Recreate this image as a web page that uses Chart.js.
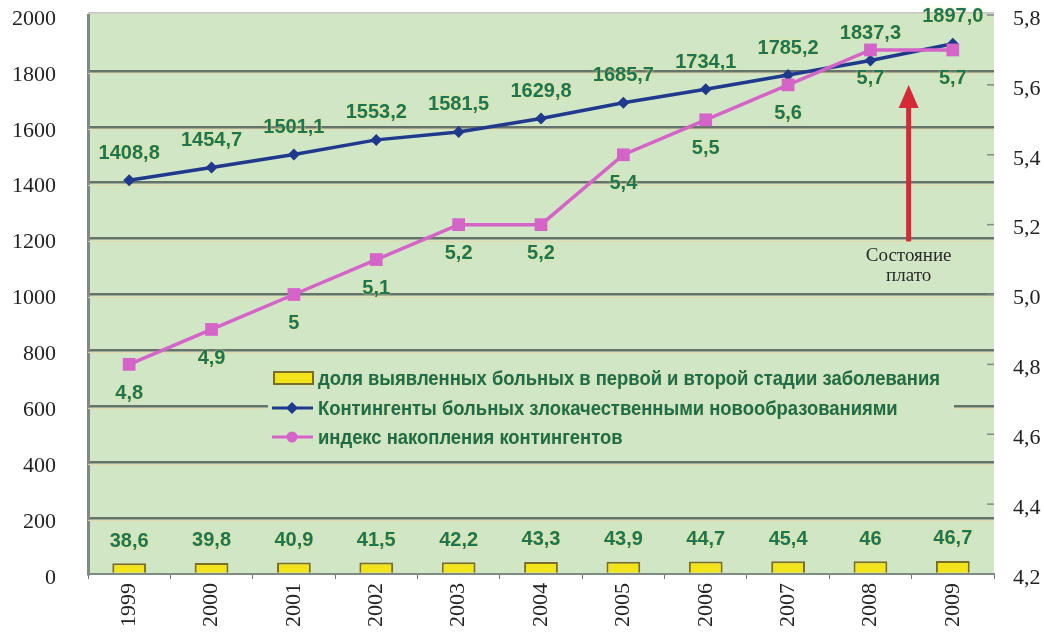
<!DOCTYPE html>
<html><head><meta charset="utf-8">
<script src="https://cdn.jsdelivr.net/npm/chart.js@4"></script>
<style>html,body{margin:0;padding:0;background:#fff}#wrap{width:1044px;height:637px;position:relative}</style>
</head><body><div id="wrap"><canvas id="c" width="1044" height="637"></canvas></div>
<script>
const years = ['1999','2000','2001','2002','2003','2004','2005','2006','2007','2008','2009'];
const earlyStageShare = [38.6,39.8,40.9,41.5,42.2,43.3,43.9,44.7,45.4,46,46.7];
const contingents = [1408.8,1454.7,1501.1,1553.2,1581.5,1629.8,1685.7,1734.1,1785.2,1837.3,1897.0];
const accumIndex = [4.8,4.9,5.0,5.1,5.2,5.2,5.4,5.5,5.6,5.7,5.7];
const seriesNames = [
  'доля выявленных больных в первой и второй стадии заболевания',
  'Контингенты больных злокачественными новообразованиями',
  'индекс накопления контингентов'
];
const plateauText = ['Состояние','плато'];

const GREEN_BG = '#d1e6c5';
const LABEL_COL = '#1b7658';
const fmtComma = v => String(v).replace('.', ',');
const fmtFixed1 = v => v.toFixed(1).replace('.', ',');

const bgPlugin = {
  id: 'bg',
  beforeDraw(chart) {
    const {ctx, chartArea: a} = chart;
    ctx.save();
    ctx.fillStyle = GREEN_BG;
    ctx.fillRect(a.left, a.top - 2, a.right - a.left, a.bottom - a.top + 2);
    ctx.fillStyle = '#c9c3c3';
    ctx.fillRect(a.left, a.top - 3, a.right - a.left, 1.5);
    ctx.restore();
  },
  beforeDatasetsDraw(chart) {
    const {ctx, chartArea: a, scales} = chart;
    ctx.save();
    ctx.strokeStyle = 'rgba(232,214,170,0.9)';
    ctx.lineWidth = 1;
    scales.y.ticks.forEach(t => {
      if (t.value <= 0 || t.value >= 2000) return;
      const y = Math.round(scales.y.getPixelForValue(t.value)) + 2.5;
      ctx.beginPath(); ctx.moveTo(a.left, y); ctx.lineTo(a.right, y); ctx.stroke();
    });
    ctx.strokeStyle = '#7e8c84';
    ctx.lineWidth = 1.5;
    scales.y2.ticks.forEach(t => {
      const y = scales.y2.getPixelForValue(t.value);
      ctx.beginPath(); ctx.moveTo(a.right - 7, y); ctx.lineTo(a.right, y); ctx.stroke();
    });
    const lx = 268, ly = 362, lw = 686, lh = 90;
    ctx.fillStyle = GREEN_BG;
    ctx.fillRect(lx, ly, lw, lh);
    const rows = [378, 408, 437];
    ctx.fillStyle = '#f2e31a'; ctx.strokeStyle = '#7a6d2a'; ctx.lineWidth = 2;
    ctx.fillRect(274, rows[0] - 6, 39, 12); ctx.strokeRect(274, rows[0] - 6, 39, 12);
    ctx.strokeStyle = '#1f3a8c'; ctx.lineWidth = 3;
    ctx.beginPath(); ctx.moveTo(272, rows[1]); ctx.lineTo(313, rows[1]); ctx.stroke();
    ctx.fillStyle = '#1f3a8c';
    ctx.beginPath(); ctx.moveTo(292, rows[1]-6); ctx.lineTo(298, rows[1]); ctx.lineTo(292, rows[1]+6); ctx.lineTo(286, rows[1]); ctx.closePath(); ctx.fill();
    ctx.strokeStyle = '#d464c8'; ctx.lineWidth = 3;
    ctx.beginPath(); ctx.moveTo(272, rows[2]); ctx.lineTo(313, rows[2]); ctx.stroke();
    ctx.fillStyle = '#d464c8';
    ctx.beginPath(); ctx.arc(292, rows[2], 5.5, 0, Math.PI*2); ctx.fill();
    ctx.font = 'bold 20px "Liberation Sans", Arial, sans-serif';
    const sx = 622 / ctx.measureText(seriesNames[0]).width;
    ctx.fillStyle = '#1c6c4e';
    ctx.textBaseline = 'middle';
    ctx.textAlign = 'left';
    ctx.shadowColor = 'rgba(230,220,120,0.7)';
    ctx.shadowBlur = 2;
    seriesNames.forEach((t, i) => {
      ctx.save();
      ctx.translate(318, rows[i] + 1);
      ctx.scale(sx, 1);
      ctx.fillText(t, 0, 0);
      ctx.restore();
    });
    ctx.restore();
  },
  afterDatasetsDraw(chart) {
    const {ctx} = chart;
    ctx.save();
    ctx.font = 'bold 20px "Liberation Sans", Arial, sans-serif';
    ctx.fillStyle = LABEL_COL;
    ctx.textAlign = 'center';
    ctx.textBaseline = 'middle';
    ctx.shadowColor = 'rgba(238,228,120,0.95)';
    ctx.shadowBlur = 3;
    const m0 = chart.getDatasetMeta(0), m1 = chart.getDatasetMeta(1), m2 = chart.getDatasetMeta(2);
    m0.data.forEach((el, i) => ctx.fillText(fmtComma(earlyStageShare[i]), el.x, el.y - 22));
    m1.data.forEach((el, i) => ctx.fillText(fmtFixed1(contingents[i]), el.x, el.y - 27));
    m2.data.forEach((el, i) => ctx.fillText(fmtComma(accumIndex[i]), el.x, el.y + 29));
    ctx.restore();
  },
  afterDraw(chart) {
    const {ctx, scales} = chart;
    const x = (scales.x.getPixelForValue(9) + scales.x.getPixelForValue(10)) / 2 - 3;
    const tip = scales.y.getPixelForValue(1750);
    const base = scales.y.getPixelForValue(1190);
    ctx.save();
    ctx.fillStyle = '#d42a35';
    ctx.fillRect(x - 2.5, tip + 18, 5, base - tip - 18);
    ctx.beginPath();
    ctx.moveTo(x, tip); ctx.lineTo(x + 10, tip + 23); ctx.lineTo(x - 10, tip + 23); ctx.closePath(); ctx.fill();
    ctx.font = '19px "Liberation Serif", "Times New Roman", serif';
    ctx.fillStyle = '#2a2a2a';
    ctx.textAlign = 'center';
    ctx.textBaseline = 'middle';
    ctx.fillText(plateauText[0], x, base + 15);
    ctx.fillText(plateauText[1], x, base + 35);
    ctx.restore();
  }
};

const serif = '"Liberation Serif", "Times New Roman", serif';
const zeroPad = s => { s.paddingTop = 0; s.paddingBottom = 0; s.paddingLeft = 0; s.paddingRight = 0; };

new Chart(document.getElementById('c'), {
  type: 'bar',
  data: {
    labels: years,
    datasets: [
      { type: 'bar', label: seriesNames[0], data: earlyStageShare, yAxisID: 'y', order: 3,
        backgroundColor: '#f2e31a', borderColor: '#7a6d2a', borderWidth: 2,
        barPercentage: 0.41, categoryPercentage: 1.0 },
      { type: 'line', label: seriesNames[1], data: contingents, yAxisID: 'y', order: 2,
        borderColor: '#1f3a8c', backgroundColor: '#1f3a8c', borderWidth: 3.5,
        pointStyle: 'rectRot', pointRadius: 6, pointBorderWidth: 0, tension: 0 },
      { type: 'line', label: seriesNames[2], data: accumIndex, yAxisID: 'y2', order: 1,
        borderColor: '#d464c8', backgroundColor: '#d464c8', borderWidth: 3.5,
        pointStyle: 'rect', pointRadius: 9, pointBorderWidth: 0, tension: 0 }
    ]
  },
  options: {
    responsive: false,
    animation: false,
    devicePixelRatio: 1,
    layout: { padding: { top: 15, left: 0, right: 0, bottom: 0 } },
    plugins: { legend: { display: false }, tooltip: { enabled: false } },
    scales: {
      x: {
        offset: true,
        grid: { display: true, drawOnChartArea: false, drawTicks: true, tickLength: 5, color: '#6a746e', offset: true },
        border: { display: true, color: '#7d8b82', width: 2 },
        ticks: { font: { family: serif, size: 22 }, color: '#222', maxRotation: 90, minRotation: 90, padding: 4 },
        afterFit(s) { s.height = 63; zeroPad(s); }
      },
      y: {
        position: 'left', min: 0, max: 2000,
        ticks: { stepSize: 200, font: { family: serif, size: 22 }, color: '#222', padding: 32, labelOffset: 4,
          callback: v => String(v) },
        grid: { drawTicks: false, lineWidth: 2.5,
          color: c => (c.tick && (c.tick.value === 0 || c.tick.value === 2000)) ? 'rgba(0,0,0,0)' : '#65736a' },
        border: { display: true, color: '#7d8b82', width: 3 },
        afterFit(s) { s.width = 88; zeroPad(s); }
      },
      y2: {
        position: 'right', min: 4.2, max: 5.8,
        ticks: { stepSize: 0.2, font: { family: serif, size: 22 }, color: '#222', padding: 19, labelOffset: 4,
          callback: v => v.toFixed(1).replace('.', ',') },
        grid: { display: false, drawTicks: false },
        border: { display: false },
        afterFit(s) { s.width = 50; zeroPad(s); }
      }
    }
  },
  plugins: [bgPlugin]
});
</script>
</body></html>
